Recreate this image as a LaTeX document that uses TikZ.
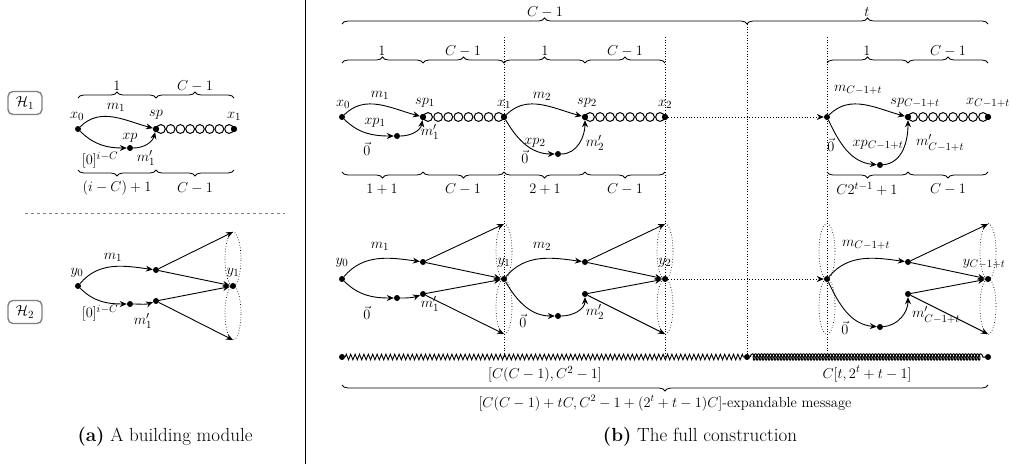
\documentclass[tikz,border=0pt]{standalone}
\usepackage{amsmath}
\usetikzlibrary{decorations.pathreplacing,decorations.pathmorphing,arrows.meta}
\begin{document}
\begin{tikzpicture}[x=1pt,y=1pt,
  font=\fontsize{15}{17}\selectfont,
  dot/.style={circle,fill,inner sep=0pt,minimum size=6pt},
  ring/.style={circle,draw,line width=1pt,inner sep=0pt,minimum size=8.8pt},
  arr/.style={-{Stealth[length=7pt,width=6pt]},line width=0.9pt},
  brc/.style={decorate,decoration={brace,amplitude=6pt},line width=0.8pt},
  brcm/.style={decorate,decoration={brace,amplitude=6pt,mirror},line width=0.8pt},
  lab/.style={inner sep=0pt},
  vdot/.style={dotted,line width=0.7pt},
  elld/.style={dotted,line width=0.7pt},
  capt/.style={inner sep=0pt,font=\fontsize{19}{21}\selectfont},
  hbox/.style={draw=gray,line width=1.4pt,rounded corners=5pt,minimum width=34pt,minimum height=23pt,inner sep=1pt}]
\useasboundingbox (0,0) rectangle (1011,-464);

% ---------- separator
\coordinate (sepT) at (305,0);
\coordinate (sepB) at (305,-464);
\draw[line width=0.9pt] (sepT) -- (sepB);

% ================= (a) =================
\node[hbox] (H1) at (25,-103) {$\mathcal{H}_1$};
\node[hbox] (H2) at (25,-312) {$\mathcal{H}_2$};
\coordinate (dl) at (25,-213);
\coordinate (dr) at (285,-213);
\draw[gray,dashed,line width=1pt] (dl) -- (dr);

% H1
\node[dot] (a0) at (78,-129) {};
\node[dot] (asp) at (156,-129) {};
\node[dot] (a1) at (234,-129) {};
\node[dot] (axp) at (130,-148) {};
\foreach \k in {0,...,7}{\node[ring] at ({156+9.75*(\k+0.5)},-129) {};}
\node[dot] at (a1) {};
\node[dot] at (asp) {};
\draw[arr] (a0) to[out=45,in=165] (asp);
\draw[arr] (a0) to[out=-45,in=180] (axp);
\draw[arr] (axp) to[out=0,in=-105] (asp);
\node[lab] at (77,-116) {$x_0$};
\node[lab] at (156,-115) {$sp$};
\node[lab] at (234,-116) {$x_1$};
\node[lab] at (116,-107) {$m_1$};
\node[lab] at (130,-138) {$xp$};
\node[lab] at (100,-160) {$[0]^{i-C}$};
\node[lab] at (146,-158) {$m'_1$};
\draw[brc] (78,-98) -- (156,-98);
\draw[brc] (156,-98) -- (234,-98);
\node[lab] at (117,-86) {$1$};
\node[lab] at (195,-86) {$C-1$};
\draw[brcm] (78,-170) -- (156,-170);
\draw[brcm] (156,-170) -- (234,-170);
\node[lab] at (117,-188) {$(i-C)+1$};
\node[lab] at (195,-188) {$C-1$};

% H2
\node[dot] (b0) at (78,-286) {};
\node[dot] (bum) at (156,-270) {};
\node[dot] (bls) at (130,-304) {};
\node[dot] (blm) at (156,-301) {};
\node[dot] (b1) at (233,-286) {};
\coordinate (btt) at (233,-232);
\coordinate (bbt) at (233,-340);
\draw[elld] (233,-259) ellipse (8 and 27);
\draw[elld] (233,-313) ellipse (8 and 27);
\draw[arr] (b0) to[out=50,in=172] (bum);
\draw[arr] (b0) to[out=-45,in=180] (bls);
\draw[arr] (bls) to[out=0,in=200] (blm);
\draw[arr] (bum) -- (btt);
\draw[arr] (bum) -- (b1);
\draw[arr] (blm) -- (b1);
\draw[arr] (blm) -- (bbt);
\node[lab] at (77,-273) {$y_0$};
\node[lab] at (113,-257) {$m_1$};
\node[lab] at (233,-273) {$y_1$};
\node[lab] at (100,-313) {$[0]^{i-C}$};
\node[lab] at (143,-321) {$m'_1$};

\node[capt] (capa) at (165,-437) {\textbf{(a)} A building module};

% ================= (b) =================
% top braces
\draw[brc] (342,-24) -- (747,-24);
\draw[brc] (747,-24) -- (988,-24);
\node[lab] at (545,-12) {$C-1$};
\node[lab] at (867,-12) {$t$};
% second braces
\draw[brc] (342,-63) -- (423,-63);
\draw[brc] (423,-63) -- (504,-63);
\draw[brc] (504,-63) -- (585,-63);
\draw[brc] (585,-63) -- (665,-63);
\draw[brc] (827,-63) -- (908,-63);
\draw[brc] (908,-63) -- (988,-63);
\node[lab] at (382,-51) {$1$};
\node[lab] at (463,-51) {$C-1$};
\node[lab] at (545,-51) {$1$};
\node[lab] at (625,-51) {$C-1$};
\node[lab] at (867,-51) {$1$};
\node[lab] at (948,-51) {$C-1$};
% bottom braces of row 1
\draw[brcm] (342,-172) -- (423,-172);
\draw[brcm] (423,-172) -- (504,-172);
\draw[brcm] (504,-172) -- (585,-172);
\draw[brcm] (585,-172) -- (665,-172);
\draw[brcm] (827,-172) -- (908,-172);
\draw[brcm] (908,-172) -- (988,-172);
\node[lab] at (382,-189) {$1+1$};
\node[lab] at (463,-189) {$C-1$};
\node[lab] at (545,-189) {$2+1$};
\node[lab] at (625,-189) {$C-1$};
\node[lab] at (867,-189) {$C2^{t-1}+1$};
\node[lab] at (948,-189) {$C-1$};

% vertical dotted lines
\coordinate (v1t) at (504,-37); \coordinate (v1b) at (504,-357);
\coordinate (v2t) at (665,-37); \coordinate (v2b) at (665,-357);
\coordinate (v3t) at (747,-24); \coordinate (v3b) at (747,-357);
\coordinate (v4t) at (827,-37); \coordinate (v4b) at (827,-357);
\draw[vdot] (v1t) -- (v1b);
\draw[vdot] (v2t) -- (v2b);
\draw[vdot] (v3t) -- (v3b);
\draw[vdot] (v4t) -- (v4b);

% row 1
\node[dot] (x0) at (342,-117) {};
\node[dot] (sp1) at (423,-117) {};
\node[dot] (x1) at (504,-117) {};
\node[dot] (sp2) at (585,-117) {};
\node[dot] (x2) at (665,-117) {};
\node[dot] (xs) at (827,-117) {};
\node[dot] (spt) at (908,-117) {};
\node[dot] (xt) at (988,-117) {};
\node[dot] (xp1) at (397,-136) {};
\node[dot] (xp2) at (558,-154) {};
\node[dot] (xpt) at (880,-165) {};
\foreach \k in {0,...,7}{
  \node[ring] at ({423+10.1*(\k+0.5)},-117) {};
  \node[ring] at ({585+10.0*(\k+0.5)},-117) {};
  \node[ring] at ({908+10.0*(\k+0.5)},-117) {};}
\foreach \n in {sp1,x1,sp2,x2,spt,xt}{\node[dot] at (\n) {};}
\draw[arr] (x0) to[out=45,in=165] (sp1);
\draw[arr] (x0) to[out=-45,in=180] (xp1);
\draw[arr] (xp1) to[out=0,in=-100] (sp1);
\draw[arr] (x1) to[out=45,in=165] (sp2);
\draw[arr] (x1) to[out=-60,in=180] (xp2);
\draw[arr] (xp2) to[out=0,in=-90] (sp2);
\draw[arr] (xs) to[out=45,in=165] (spt);
\draw[arr] (xs) to[out=-65,in=175] (xpt);
\draw[arr] (xpt) to[out=5,in=-90] (spt);
\draw[arr,dotted] (x2) -- (xs);
\node[lab] at (343,-104) {$x_0$};
\node[lab] at (380,-95) {$m_1$};
\node[lab] at (425,-103) {$sp_1$};
\node[lab] at (375,-123) {$xp_1$};
\node[lab] at (430,-132) {$m'_1$};
\node[lab] at (367,-149) {$\vec{0}$};
\node[lab] at (504,-104) {$x_1$};
\node[lab] at (542,-96) {$m_2$};
\node[lab] at (587,-103) {$sp_2$};
\node[lab] at (665,-104) {$x_2$};
\node[lab] at (535,-143) {$xp_2$};
\node[lab] at (595,-143) {$m'_2$};
\node[lab] at (525,-157) {$\vec{0}$};
\node[lab] at (858,-90) {$m_{C-1+t}$};
\node[lab] at (915,-103) {$sp_{C-1+t}$};
\node[lab] at (988,-103) {$x_{C-1+t}$};
\node[lab] at (831,-145) {$\vec{0}$};
\node[lab] at (878,-145) {$xp_{C-1+t}$};
\node[lab] at (940,-143) {$m'_{C-1+t}$};

% row 2
\foreach \x in {504,665,827,988}{
  \draw[elld] (\x,-251.5) ellipse (8 and 28);
  \draw[elld] (\x,-306.5) ellipse (8 and 28);}
\node[dot] (y0) at (342,-279) {};
\node[dot] (u1) at (423,-262) {};
\node[dot] (s1) at (397,-298) {};
\node[dot] (l1) at (423,-294) {};
\node[dot] (y1) at (504,-279) {};
\node[dot] (u2) at (585,-262) {};
\node[dot] (s2) at (558,-316) {};
\node[dot] (l2) at (585,-294) {};
\node[dot] (y2) at (665,-279) {};
\node[dot] (ys) at (827,-279) {};
\node[dot] (ut) at (908,-262) {};
\node[dot] (st) at (880,-327) {};
\node[dot] (lt) at (908,-294) {};
\node[dot] (yt) at (988,-279) {};
\coordinate (t1u) at (504,-224); \coordinate (t1d) at (504,-334);
\coordinate (t2u) at (665,-224); \coordinate (t2d) at (665,-334);
\coordinate (ttu) at (988,-224); \coordinate (ttd) at (988,-334);
\draw[arr] (y0) to[out=50,in=172] (u1);
\draw[arr] (y0) to[out=-45,in=180] (s1);
\draw[arr] (s1) to[out=0,in=200] (l1);
\draw[arr] (u1) -- (t1u);
\draw[arr] (u1) -- (y1);
\draw[arr] (l1) -- (y1);
\draw[arr] (l1) -- (t1d);
\draw[arr] (y1) to[out=50,in=172] (u2);
\draw[arr] (y1) to[out=-60,in=180] (s2);
\draw[arr] (s2) to[out=0,in=-90] (l2);
\draw[arr] (u2) -- (t2u);
\draw[arr] (u2) -- (y2);
\draw[arr] (l2) -- (y2);
\draw[arr] (l2) -- (t2d);
\draw[arr] (ys) to[out=50,in=172] (ut);
\draw[arr] (ys) to[out=-65,in=175] (st);
\draw[arr] (st) to[out=5,in=-90] (lt);
\draw[arr] (ut) -- (ttu);
\draw[arr] (ut) -- (yt);
\draw[arr] (lt) -- (yt);
\draw[arr] (lt) -- (ttd);
\draw[arr,dotted] (y2) -- (ys);
\node[lab] at (342,-263) {$y_0$};
\node[lab] at (380,-246) {$m_1$};
\node[lab] at (504,-263) {$y_1$};
\node[lab] at (430,-304) {$m'_1$};
\node[lab] at (367,-313) {$\vec{0}$};
\node[lab] at (542,-246) {$m_2$};
\node[lab] at (665,-263) {$y_2$};
\node[lab] at (595,-312) {$m'_2$};
\node[lab] at (523,-321) {$\vec{0}$};
\node[lab] at (866,-245) {$m_{C-1+t}$};
\node[lab] at (984,-264) {$y_{C-1+t}$};
\node[lab] at (936,-315) {$m'_{C-1+t}$};
\node[lab] at (845,-328) {$\vec{0}$};

% bottom message line
\node[dot] (w0) at (342,-357) {};
\node[dot] (w1) at (747,-357) {};
\node[dot] (w2) at (988,-357) {};
\draw[decorate,decoration={zigzag,amplitude=2.8pt,segment length=4.4pt},line width=0.9pt] (w0) -- (w1);
\draw[decorate,decoration={coil,amplitude=3.2pt,segment length=3pt,aspect=0.5},line width=1pt] (w1) -- (w2);
\node[lab] at (545,-374) {$[C(C-1),C^2-1]$};
\node[lab] at (867,-374) {$C[t,2^t+t-1]$};
\draw[brcm] (342,-385) -- (988,-385);
\node[lab] at (665,-403) {\fontsize{14.5}{16}\selectfont$[C(C-1)+tC,C^2-1+(2^t+t-1)C]$-expandable message};

\node[capt] (capb) at (700,-437) {\textbf{(b)} The full construction};
\end{tikzpicture}
\end{document}
